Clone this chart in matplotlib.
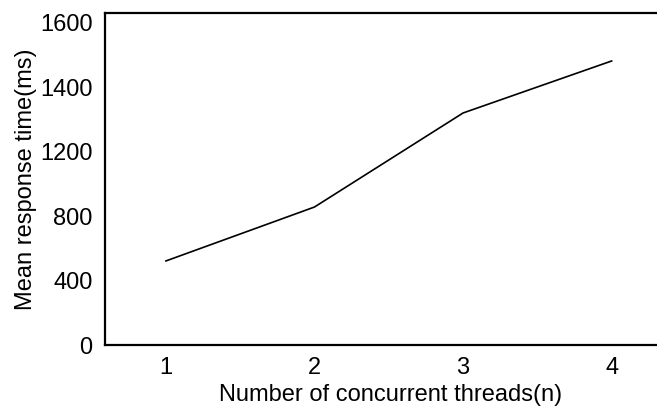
import matplotlib
matplotlib.use("Agg")
import matplotlib.pyplot as plt

threads = [1, 2, 3, 4]
mean_ms = [522, 857, 1441, 1764]
ytick_vals = [0, 400, 800, 1200, 1600, 2000]
ytick_labels = ["0", "400", "800", "1200", "1400", "1600"]
xtick_labels = ["1", "2", "3", "4"]

plt.rcParams['font.family'] = ['Liberation Sans', 'DejaVu Sans']

fig = plt.figure(figsize=(6.57, 4.12), dpi=100)
# the plot frame runs slightly past the right edge of the image, as in the reference
ax = fig.add_axes([105/657, 1-345/412, (677-105)/657, (345-13)/412])

ax.plot(threads, mean_ms, color='black', linewidth=1.2)

ax.set_xlim(0.59, 4.44)
ax.set_ylim(0, 2062)
ax.set_xticks(threads)
ax.set_xticklabels(xtick_labels)
ax.set_yticks(ytick_vals)
ax.set_yticklabels(ytick_labels)
ax.tick_params(length=0, labelsize=17, pad=9)

for s in ['top', 'left', 'bottom', 'right']:
    ax.spines[s].set_linewidth(1.6)
    ax.spines[s].set_color('black')

ax.set_xlabel("Number of concurrent threads(n)", fontsize=17, labelpad=3)
ax.set_ylabel("Mean response time(ms)", fontsize=17, labelpad=2)

fig.savefig("out.png", dpi=100)
